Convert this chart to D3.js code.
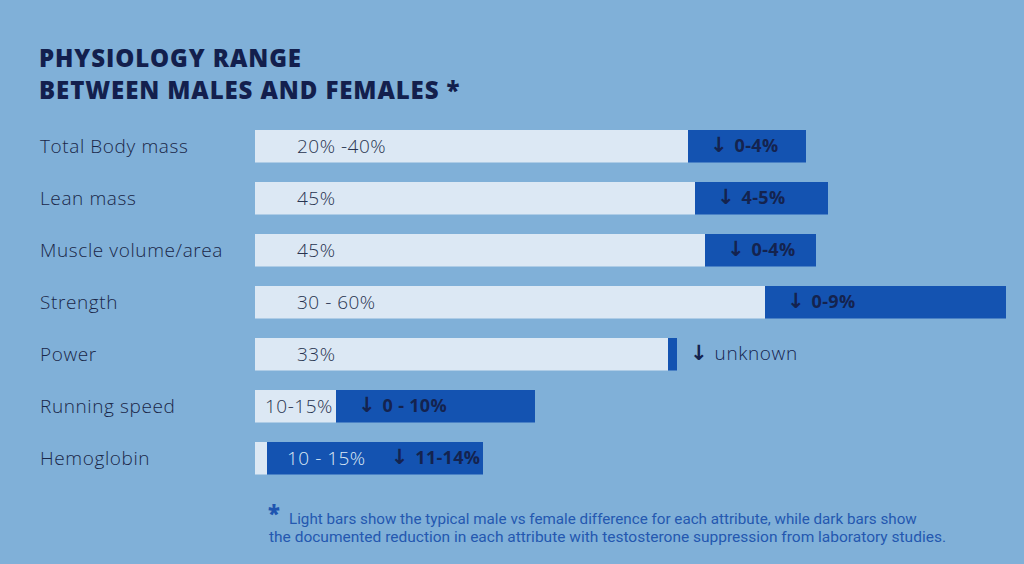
<!DOCTYPE html>
<html>
<head>
<meta charset="utf-8">
<script src="https://cdn.jsdelivr.net/npm/d3@7"></script>
<style>
  html, body { margin: 0; padding: 0; background: #80b0d8; }
  svg { display: block; }
</style>
</head>
<body>
<svg id="chart" width="1024" height="564"></svg>
<script>
// ---- data ----
const categories = ["Total Body mass", "Lean mass", "Muscle volume/area", "Strength", "Power", "Running speed", "Hemoglobin"];
// typical male vs female difference (bar length, arbitrary units)
const lightValues = [433, 440, 450, 510, 413, 81, 12];
// documented reduction with testosterone suppression (bar length, arbitrary units)
const darkValues = [118, 133, 111, 241, 9, 199, 216];
const lightLabels = ["20% -40%", "45%", "45%", "30 - 60%", "33%", "10-15%", "10 - 15%"];
const darkLabels = ["0-4%", "4-5%", "0-4%", "0-9%", "unknown", "0 - 10%", "11-14%"];
const titleLines = ["PHYSIOLOGY RANGE", "BETWEEN MALES AND FEMALES *"];
const footnoteLines = [
  "Light bars show the typical male vs female difference for each attribute, while dark bars show",
  "the documented reduction in each attribute with testosterone suppression from laboratory studies."
];

// ---- layout ----
const svg = d3.select("#chart");
const W = 1024, H = 564;
svg.append("rect").attr("width", W).attr("height", H).attr("fill", "#80b0d8");

const x = d3.scaleLinear().domain([0, 751]).range([255, 1006]);
const y = d3.scaleBand().domain(categories).range([130, 474.5]).paddingInner(0.375).paddingOuter(0).align(0);

// title
svg.append("g").selectAll("text").data(titleLines).join("text")
  .attr("x", 39).attr("y", (d, i) => 67 + i * 32)
  .attr("font-family", "'Open Sans', sans-serif").attr("font-weight", 800)
  .attr("font-size", 24).attr("fill", "#131f4d").attr("letter-spacing", 0.9)
  .text(d => d);

const rows = svg.append("g").selectAll("g").data(categories).join("g")
  .attr("transform", d => `translate(0,${y(d)})`);
const bh = y.bandwidth();

const labelFont = "'Open Sans', sans-serif";

// category labels
rows.append("text")
  .attr("x", 40).attr("y", bh / 2).attr("dy", "0.36em")
  .attr("font-family", labelFont).attr("font-weight", 300)
  .attr("font-size", 19).attr("letter-spacing", 0.6).attr("fill", "#1a2748")
  .text(d => d);

// light bars
rows.append("rect")
  .attr("x", x(0)).attr("y", 0).attr("height", bh)
  .attr("width", (d, i) => x(lightValues[i]) - x(0))
  .attr("fill", "#dce8f4");

// dark bars
rows.append("rect")
  .attr("x", (d, i) => x(lightValues[i])).attr("y", 0).attr("height", bh)
  .attr("width", (d, i) => x(lightValues[i] + darkValues[i]) - x(lightValues[i]))
  .attr("fill", "#1453b1");

// value labels
rows.each(function (d, i) {
  const g = d3.select(this);
  const lw = x(lightValues[i]) - x(0);
  const dw = x(lightValues[i] + darkValues[i]) - x(lightValues[i]);
  let lx, lcol;
  if (lw > 200) { lx = x(0) + 42; lcol = "#283450"; }
  else if (lw > 60) { lx = x(0) + 10; lcol = "#283450"; }
  else { lx = x(lightValues[i]) + 20; lcol = "#dce8f4"; }
  const lt = g.append("text")
    .attr("x", lx).attr("y", bh / 2).attr("dy", "0.36em")
    .attr("font-family", labelFont).attr("font-weight", 300)
    .attr("font-size", 19).attr("letter-spacing", 0.5).attr("fill", lcol)
    .text(lightLabels[i]);
  let dx;
  const inside = dw > 50;
  if (lw <= 60) dx = lx + lt.node().getComputedTextLength() + 25;
  else if (inside) dx = x(lightValues[i]) + 22;
  else dx = x(lightValues[i] + darkValues[i]) + 13;
  const dt = g.append("text")
    .attr("x", dx).attr("y", bh / 2).attr("dy", "0.36em")
    .attr("fill", "#14234f");
  dt.append("tspan").attr("font-family", "'DejaVu Sans', sans-serif").attr("font-weight", 700)
    .attr("font-size", 21).text("\u2193");
  dt.append("tspan")
    .attr("dx", 7)
    .attr("font-family", labelFont)
    .attr("font-weight", inside ? 700 : 300)
    .attr("font-size", inside ? 18 : 19)
    .attr("letter-spacing", inside ? 0.3 : 0.6)
    .text(darkLabels[i]);
});

// footnote
const fn = svg.append("g").attr("font-family", "Roboto, sans-serif").attr("fill", "#2458b0");
const fn1 = fn.append("text").attr("x", 268).attr("y", 524);
fn1.append("tspan")
  .attr("font-family", "'Open Sans', sans-serif").attr("font-weight", 800)
  .attr("font-size", 22).attr("dy", -2).attr("fill", "#1f55b0").text("*");
fn1.append("tspan").attr("x", 289).attr("dy", 2)
  .attr("font-size", 15.2).text(footnoteLines[0]);
fn.append("text").attr("x", 269).attr("y", 542)
  .attr("font-size", 15.5).text(footnoteLines[1]);
</script>
</body>
</html>
